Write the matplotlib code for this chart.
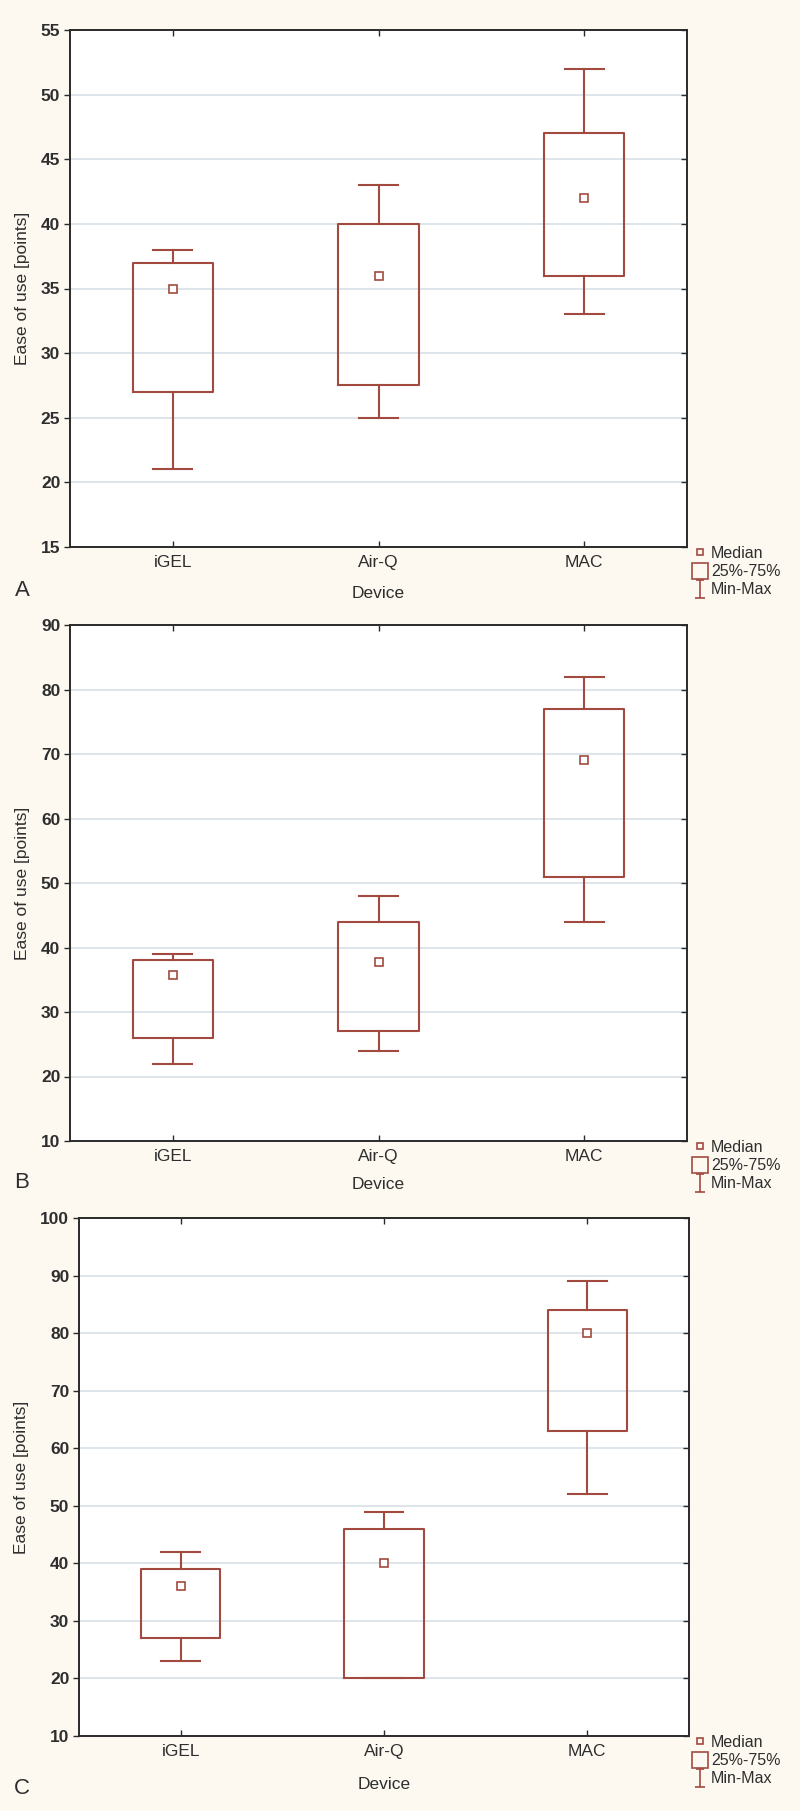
import matplotlib
matplotlib.use("Agg")
import matplotlib.pyplot as plt
from matplotlib.lines import Line2D
from matplotlib.path import Path

# ---- data ----
devices = ["iGEL", "Air-Q", "MAC"]

a_min = [21, 25, 33]
a_q1 = [27, 27.5, 36]
a_med = [35, 36, 42]
a_q3 = [37, 40, 47]
a_max = [38, 43, 52]

b_min = [22, 24, 44]
b_q1 = [26, 27, 51]
b_med = [35.75, 37.75, 69]
b_q3 = [38, 44, 77]
b_max = [39, 48, 82]

c_min = [23, 20, 52]
c_q1 = [27, 20, 63]
c_med = [36, 40, 80]
c_q3 = [39, 46, 84]
c_max = [42, 49, 89]

a_ticks = [15, 20, 25, 30, 35, 40, 45, 50, 55]
b_ticks = [10, 20, 30, 40, 50, 60, 70, 80, 90]
c_ticks = [10, 20, 30, 40, 50, 60, 70, 80, 90, 100]

# ---- style ----
BOX = "#A24A40"
BG = "#FDF9F1"
GRID = "#D3DCE4"
SPINE = "#2a2a2a"
TXT = "#2e2e2e"

plt.rcParams["font.family"] = ["Liberation Sans", "DejaVu Sans"]

W, H = 800, 1811
fig = plt.figure(figsize=(W / 100, H / 100), dpi=100, facecolor=BG)

# axes boxes in pixels: left, right, top, bottom
panels = [
    dict(tag="A", rect=(70, 687, 30, 547), stats=(a_min, a_q1, a_med, a_q3, a_max),
         ticks=a_ticks, tag_y=590, labelpad=11),
    dict(tag="B", rect=(70, 687, 625, 1141), stats=(b_min, b_q1, b_med, b_q3, b_max),
         ticks=b_ticks, tag_y=1182, labelpad=9),
    dict(tag="C", rect=(79, 689, 1218, 1736), stats=(c_min, c_q1, c_med, c_q3, c_max),
         ticks=c_ticks, tag_y=1789, labelpad=13),
]

minmax_path = Path(
    [(-0.45, 1), (0.45, 1), (0, 1), (0, -1), (-0.55, -1), (0.55, -1)],
    [Path.MOVETO, Path.LINETO, Path.MOVETO, Path.LINETO, Path.MOVETO, Path.LINETO],
)

for p in panels:
    l, r, t, b = p["rect"]
    ax = fig.add_axes([l / W, 1 - b / H, (r - l) / W, (b - t) / H])
    ax.set_facecolor("white")

    mins, q1s, meds, q3s, maxs = p["stats"]
    stats = [
        dict(whislo=lo, q1=q1, med=md, mean=md, q3=q3, whishi=hi, fliers=[], label=name)
        for name, lo, q1, md, q3, hi in zip(devices, mins, q1s, meds, q3s, maxs)
    ]
    line = dict(color=BOX, linewidth=1.5)
    ax.bxp(
        stats, positions=range(len(devices)), widths=0.39, capwidths=0.19,
        showfliers=False, showmeans=True,
        boxprops=line, whiskerprops=line, capprops=line,
        medianprops=dict(visible=False),
        meanprops=dict(marker="s", markersize=5.5, markerfacecolor="white",
                       markeredgecolor=BOX, markeredgewidth=1.2),
    )

    ax.set_xlim(-0.5, len(devices) - 0.5)
    ax.set_ylim(p["ticks"][0], p["ticks"][-1])
    ax.set_yticks(p["ticks"])
    ax.set_xticks(range(len(devices)))
    ax.set_xticklabels(devices)

    ax.yaxis.grid(True, color=GRID, linewidth=1.1)
    ax.set_axisbelow(True)

    for s in ax.spines.values():
        s.set_color(SPINE)
        s.set_linewidth(1.4)

    ax.tick_params(axis="y", which="both", left=True, right=True, direction="out",
                   length=4, width=1, color=SPINE, labelsize=12.5, labelcolor=TXT, pad=3)
    ax.tick_params(axis="x", top=True, bottom=True, direction="in", length=4, width=1,
                   color=SPINE, labelsize=12.5, labelcolor=TXT, pad=6)
    for lab in ax.get_yticklabels():
        lab.set_fontweight("bold")
    # left ticks point outwards, right ones inwards
    for tk in ax.yaxis.get_major_ticks():
        tk.tick1line.set_marker(matplotlib.lines.TICKLEFT)
        tk.tick2line.set_marker(matplotlib.lines.TICKLEFT)

    ax.set_ylabel("Ease of use [points]", fontsize=12.5, color=TXT, labelpad=8)
    ax.set_xlabel("Device", fontsize=12.5, color=TXT, labelpad=p["labelpad"])

    handles = [
        Line2D([], [], linestyle="none", marker="s", markersize=4.5,
               markerfacecolor="none", markeredgecolor=BOX, markeredgewidth=1.2),
        Line2D([], [], linestyle="none", marker="s", markersize=12,
               markerfacecolor="none", markeredgecolor=BOX, markeredgewidth=1.2),
        Line2D([], [], linestyle="none", marker=minmax_path, markersize=13,
               markerfacecolor="none", markeredgecolor=BOX, markeredgewidth=1.2),
    ]
    fig.legend(handles, ["Median", "25%-75%", "Min-Max"], loc="upper left",
               bbox_to_anchor=(694 / W, 1 - (b - 1) / H), bbox_transform=fig.transFigure,
               frameon=False, fontsize=11.5, handlelength=0.8, handletextpad=0.25,
               labelspacing=0.2, borderpad=0, borderaxespad=0, labelcolor=TXT)

    fig.text(22 / W, 1 - p["tag_y"] / H, p["tag"], fontsize=16, color=TXT,
             ha="center", va="center")

fig.savefig("out.png", dpi=100, facecolor=BG)
